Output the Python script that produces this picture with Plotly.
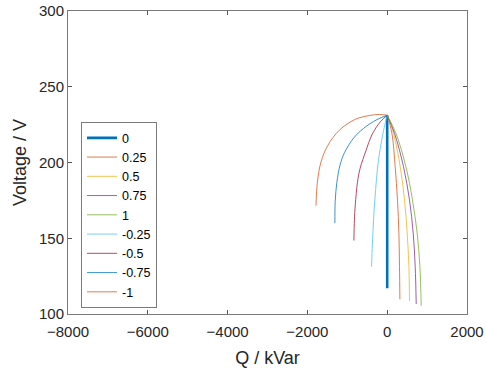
import plotly.graph_objects as go

labels = ["0", "0.25", "0.5", "0.75", "1", "-0.25", "-0.5", "-0.75", "-1"]
colors = ["#0072BD", "#D95319", "#EDB120", "#7E2F8E", "#77AC30",
          "#4DBEEE", "#A2142F", "#0072BD", "#D95319"]

q_0 = [0, 0]
v_0 = [231.2, 117.0]

q_p025 = [0, 118, 200, 258, 293, 308, 318]
v_p025 = [231.2, 219.3, 197.2, 175.2, 153.3, 131.2, 109.7]

q_p05 = [0, 158, 326, 434, 501, 544, 559]
v_p05 = [231.2, 219.3, 197.2, 175.2, 153.3, 131.2, 108.6]

q_p075 = [0, 183, 409, 559, 652, 702, 727]
v_p075 = [231.2, 219.3, 197.2, 175.2, 153.3, 131.2, 106.6]

q_p1 = [0, 218, 469, 634, 752, 820, 852]
v_p1 = [231.2, 219.3, 197.2, 175.2, 153.3, 131.2, 105.5]

q_m025 = [0, -75, -150, -240, -290, -325, -350, -372, -393]
v_m025 = [231.2, 223.0, 213.0, 197.0, 182.0, 170.0, 158.0, 146.0, 131.3]

q_m05 = [0, -175, -383, -530, -680, -745, -800, -822, -835]
v_m05 = [231.2, 226.8, 218.3, 208.0, 196.0, 187.0, 172.0, 162.0, 148.5]

q_m075 = [0, -258, -594, -845, -1070, -1180, -1261, -1303, -1311]
v_m075 = [231.2, 228.3, 222.5, 216.0, 206.5, 198.5, 187.0, 174.4, 160.0]

q_m1 = [0, -200, -450, -800, -1200, -1490, -1660, -1750, -1785]
v_m1 = [231.2, 231.7, 231.0, 228.5, 221.3, 211.2, 200.3, 187.0, 171.5]

series_q = [q_0, q_p025, q_p05, q_p075, q_p1, q_m025, q_m05, q_m075, q_m1]
series_v = [v_0, v_p025, v_p05, v_p075, v_p1, v_m025, v_m05, v_m075, v_m1]

x_ticks = [-8000, -6000, -4000, -2000, 0, 2000]
y_ticks = [100, 150, 200, 250, 300]

fig = go.Figure()
for i, (lab, q, v) in enumerate(zip(labels, series_q, series_v)):
    fig.add_trace(go.Scatter(
        x=q, y=v, mode="lines", name=lab,
        line=dict(color=colors[i], width=2.6 if i == 0 else 0.9,
                  shape="linear" if i == 0 else "spline", smoothing=1.0),
        opacity=1.0 if i == 0 else 0.85,
    ))

axis_common = dict(
    showline=True, linecolor="#7a7a7a", linewidth=1, mirror="ticks",
    ticks="inside", ticklen=4, tickcolor="#555555",
    showgrid=False, zeroline=False, automargin=False,
    tickfont=dict(family="Liberation Sans, Arial", size=15, color="#262626"),
)

fig.update_layout(
    width=487, height=372,
    margin=dict(l=68, r=20, t=11, b=58, autoexpand=False),
    paper_bgcolor="white", plot_bgcolor="white",
    font=dict(family="Liberation Sans, Arial", color="#262626"),
    xaxis=dict(range=[-8000, 2000], tickvals=x_ticks, ticklabelstandoff=4,
               title=dict(text="Q / kVar", font=dict(size=18), standoff=12),
               **axis_common),
    yaxis=dict(range=[100, 300], tickvals=y_ticks,
               title=dict(text="Voltage / V", font=dict(size=18), standoff=7),
               **axis_common),
    legend=dict(x=0.0326, y=0.633, xanchor="left", yanchor="top",
                bgcolor="white", bordercolor="#7a7a7a", borderwidth=1,
                font=dict(size=12.5, color="#000000"), tracegroupgap=0),
    showlegend=True,
)

fig.write_html("out.html")
